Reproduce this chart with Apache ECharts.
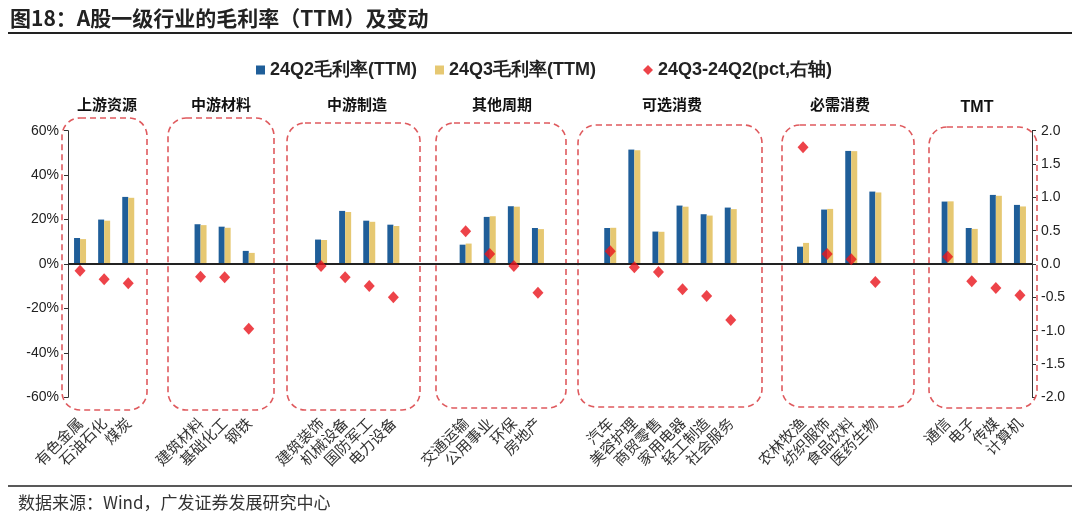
<!DOCTYPE html>
<html>
<head>
<meta charset="utf-8">
<script src="https://cdn.jsdelivr.net/npm/echarts@6/dist/echarts.min.js"></script>
<style>
html,body{margin:0;padding:0;background:#fff;}
#chart{width:1080px;height:516px;}
</style>
</head>
<body>
<div id="chart"></div>
<script>
// ---- data ----
var industries = ['有色金属','石油石化','煤炭','','','建筑材料','基础化工','钢铁','','',
  '建筑装饰','机械设备','国防军工','电力设备','','','交通运输','公用事业','环保','房地产','','',
  '汽车','美容护理','商贸零售','家用电器','轻工制造','社会服务','','',
  '农林牧渔','纺织服饰','食品饮料','医药生物','','','通信','电子','传媒','计算机'];
var q2Margin = [11.7,20.0,30.2,null,null,17.9,16.8,5.9,null,null,
  11.0,23.9,19.5,17.7,null,null,8.7,21.2,26.0,16.2,null,null,
  16.2,51.5,14.6,26.3,22.4,25.4,null,null,
  7.8,24.5,50.9,32.6,null,null,28.1,16.2,31.1,26.6];
var q3Margin = [11.2,19.5,29.8,null,null,17.5,16.3,5.0,null,null,
  10.8,23.4,19.0,17.1,null,null,9.2,21.5,25.8,15.7,null,null,
  16.3,51.2,14.5,25.8,21.8,24.7,null,null,
  9.5,24.8,50.8,32.2,null,null,28.2,15.8,30.7,25.9];
var changePct = [-0.10,-0.23,-0.29,null,null,-0.19,-0.20,-0.97,null,null,
  -0.03,-0.20,-0.33,-0.50,null,null,0.49,0.15,-0.03,-0.43,null,null,
  0.19,-0.05,-0.12,-0.38,-0.48,-0.84,null,null,
  1.75,0.15,0.07,-0.27,null,null,0.11,-0.26,-0.36,-0.47];
var leftTicks = [-60,-40,-20,0,20,40,60];
var rightTicks = [-2.0,-1.5,-1.0,-0.5,0.0,0.5,1.0,1.5,2.0];
var groupNames = ['上游资源','中游材料','中游制造','其他周期','可选消费','必需消费','TMT'];
var seriesNames = ['24Q2毛利率(TTM)','24Q3毛利率(TTM)','24Q3-24Q2(pct,右轴)'];

// ---- layout (decoration) ----
var groupLabelX = [107,221,357,502,672,840,977];
var boxes = [[62,118,85,292],[168,118,106,292],[287,123,133,287],[436,123,130,285],
             [578,125,184,282],[782,125,132,282],[929,127,108,281]];

var chart = echarts.init(document.getElementById('chart'));
var sans = 'Liberation Sans, Arial, sans-serif';
var cjk = 'Noto Sans CJK SC, sans-serif';

var graphics = [];
boxes.forEach(function(b){
  graphics.push({type:'rect', z:1, silent:true,
    shape:{x:b[0], y:b[1], width:b[2], height:b[3], r:18},
    style:{fill:'none', stroke:'#df5a5e', lineWidth:1.6, lineDash:[6,4]}});
});
groupNames.forEach(function(n,i){
  graphics.push({type:'text', z:5, silent:true, x:groupLabelX[i], y:n==='TMT'?108:104,
    style:{text:n, align:'center', verticalAlign:'middle',
      font: n==='TMT' ? 'bold 16px '+sans : 'bold 15px '+cjk, fill:'#111'}});
});
graphics.push({type:'text', x:10, y:18, style:{text:'图18：A股一级行业的毛利率（TTM）及变动',
  verticalAlign:'middle', font:'bold 21px '+cjk, fill:'#222'}});
graphics.push({type:'line', shape:{x1:8,y1:33,x2:1072,y2:33}, style:{stroke:'#222', lineWidth:2}});
graphics.push({type:'line', shape:{x1:8,y1:486,x2:1072,y2:486}, style:{stroke:'#222', lineWidth:1.5}});
graphics.push({type:'text', x:18, y:503, style:{text:'数据来源：Wind，广发证券发展研究中心',
  verticalAlign:'middle', font:'17px '+cjk, fill:'#333'}});

var legendText = {fontFamily: sans, fontWeight:'bold', fontSize:18, color:'#222'};
var option = {
  animation:false,
  backgroundColor:'#fff',
  grid:{left:68, right:48, top:130.7, bottom:118.7, containLabel:false},
  legend:[
    {data:[seriesNames[0]], left:251, top:56, itemWidth:9, itemHeight:9, icon:'rect', textStyle:legendText},
    {data:[seriesNames[1]], left:430, top:56, itemWidth:9, itemHeight:9, icon:'rect', textStyle:legendText},
    {data:[seriesNames[2]], left:638, top:56, itemWidth:10, itemHeight:10, icon:'diamond', textStyle:legendText}
  ],
  xAxis:{type:'category', data:industries,
    axisLine:{show:false}, axisTick:{show:false},
    axisLabel:{interval:0, rotate:45, margin:23, fontFamily:cjk, fontSize:15, color:'#333'}},
  yAxis:[
    {type:'value', min:leftTicks[0], max:leftTicks[leftTicks.length-1], interval:20,
      axisLine:{show:true, lineStyle:{color:'#333', width:1}},
      axisTick:{show:true, length:4, lineStyle:{color:'#333'}},
      splitLine:{show:false},
      axisLabel:{formatter:'{value}%', fontFamily:sans, fontSize:14, color:'#222', margin:9}},
    {type:'value', min:rightTicks[0], max:rightTicks[rightTicks.length-1], interval:0.5,
      axisLine:{show:true, lineStyle:{color:'#333', width:1}},
      axisTick:{show:true, length:4, lineStyle:{color:'#333'}},
      splitLine:{show:false},
      axisLabel:{formatter:function(v){return v.toFixed(1);}, fontFamily:sans, fontSize:14, color:'#222', margin:9}}
  ],
  series:[
    {name:seriesNames[0], type:'bar', data:q2Margin, barWidth:6, barGap:'0%', z:3,
      itemStyle:{color:'#1f5e99'},
      markLine:{silent:true, symbol:'none', label:{show:false},
        lineStyle:{color:'#222', width:2, type:'solid'}, data:[{yAxis:0}]}},
    {name:seriesNames[1], type:'bar', data:q3Margin, barWidth:6, barGap:'0%', z:3,
      itemStyle:{color:'#e6c872'}},
    {name:seriesNames[2], type:'scatter', yAxisIndex:1, data:changePct, z:6,
      symbol:'diamond', symbolSize:[11,12], itemStyle:{color:'#e8141b'}}
  ],
  graphic:graphics
};
chart.setOption(option);
</script>
</body>
</html>
